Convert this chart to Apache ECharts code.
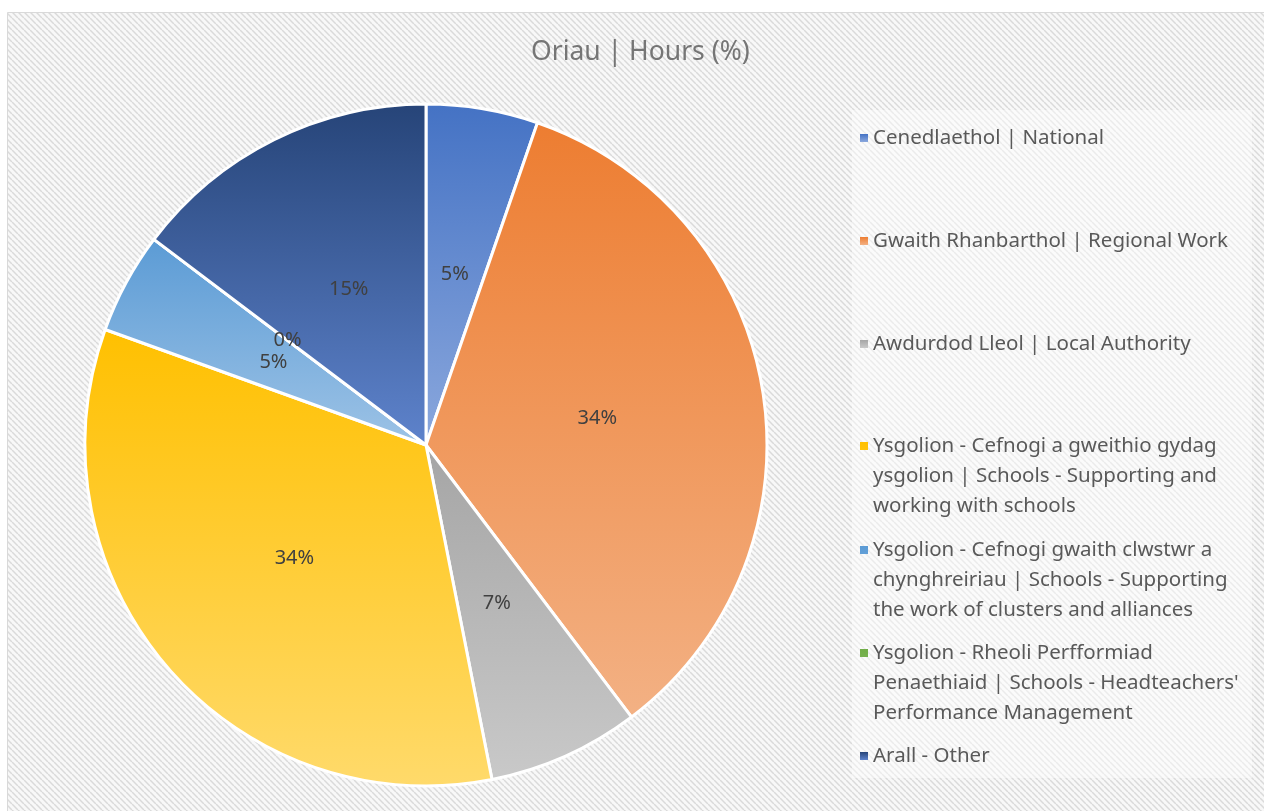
<!DOCTYPE html>
<html>
<head>
<meta charset="utf-8">
<script src="https://cdn.jsdelivr.net/npm/echarts@6/dist/echarts.min.js"></script>
<style>
  html, body {margin: 0; padding: 0; background: #fff;}
  #hoursPie {width: 1264px; height: 811px;}
</style>
</head>
<body>
<div id="hoursPie"></div>
<script>
const categories = [
  'Cenedlaethol | National',
  'Gwaith Rhanbarthol | Regional Work',
  'Awdurdod Lleol | Local Authority',
  'Ysgolion - Cefnogi a gweithio gydag ysgolion | Schools - Supporting and working with schools',
  'Ysgolion - Cefnogi gwaith clwstwr a chynghreiriau | Schools - Supporting the work of clusters and alliances',
  'Ysgolion - Rheoli Perfformiad Penaethiaid | Schools - Headteachers\' Performance Management',
  'Arall - Other'
];
// legend text as it wraps in the original
const legendText = [
  'Cenedlaethol | National',
  'Gwaith Rhanbarthol | Regional Work',
  'Awdurdod Lleol | Local Authority',
  'Ysgolion - Cefnogi a gweithio gydag\nysgolion | Schools - Supporting and\nworking with schools',
  'Ysgolion - Cefnogi gwaith clwstwr a\nchynghreiriau | Schools - Supporting\nthe work of clusters and alliances',
  'Ysgolion - Rheoli Perfformiad\nPenaethiaid | Schools - Headteachers\'\nPerformance Management',
  'Arall - Other'
];
const hours = [5.3, 34.4, 7.2, 33.6, 4.8, 0, 14.7];

const baseColors = ['#4472C4', '#ED7D31', '#A5A5A5', '#FFC000', '#5B9BD5', '#70AD47', '#264478'];
const lightColors = ['#8BA8DD', '#F3B184', '#C9C9C9', '#FFDA6B', '#9DC3E6', '#A9D18E', '#5E83CC'];
const legendLineY = [136, 239, 342, 444, 548, 651, 754];

const fontFamily = 'Noto Sans';
const lineH = 30;

function hatchTile() {
  const s = 6;
  const c = document.createElement('canvas');
  c.width = s;
  c.height = s;
  const ctx = c.getContext('2d');
  ctx.fillStyle = '#f8f8f8';
  ctx.fillRect(0, 0, s, s);
  ctx.strokeStyle = '#dadada';
  ctx.lineWidth = 1.5;
  [-s, 0, s].forEach(k => {
    ctx.beginPath();
    ctx.moveTo(k, 0);
    ctx.lineTo(k + s, s);
    ctx.stroke();
  });
  return c;
}

// one legend per item so that the spacing follows the original;
// for wrapped items the marker sits on top of a taller invisible box,
// which keeps it level with the first line of text
const legends = categories.map((name, i) => {
  const lines = legendText[i].split('\n').length;
  const boxH = 8 + lineH * (lines - 1);
  return {
    data: [name],
    orient: 'vertical',
    left: 860,
    top: legendLineY[i] - 13,
    padding: 0,
    itemWidth: 8,
    itemHeight: boxH,
    icon: 'path://M0,0L8,0L8,8L0,8Z' + (lines > 1 ? 'M0,' + boxH + 'L0.01,' + boxH : ''),
    itemStyle: {borderWidth: 0},
    formatter: () => legendText[i],
    textStyle: {
      fontFamily: fontFamily,
      fontSize: 20.5,
      color: '#595959',
      lineHeight: lineH
    }
  };
});

const option = {
  animation: false,
  title: {
    text: 'Oriau | Hours (%)',
    left: 531,
    top: 39,
    padding: 0,
    textStyle: {fontFamily: fontFamily, fontSize: 26.5, fontWeight: 'normal', color: '#757575'}
  },
  graphic: [
    {
      type: 'rect',
      z: 0,
      silent: true,
      shape: {x: 7.5, y: 12.5, width: 1280, height: 820},
      style: {fill: {image: hatchTile(), repeat: 'repeat'}, stroke: '#d9d9d9', lineWidth: 1}
    },
    {
      type: 'rect',
      z: 1,
      silent: true,
      shape: {x: 852, y: 110, width: 400, height: 668},
      style: {fill: 'rgba(255,255,255,0.45)'}
    }
  ],
  legend: legends,
  series: [
    {
      type: 'pie',
      center: [426, 445],
      radius: 341,
      startAngle: 90,
      clockwise: true,
      avoidLabelOverlap: false,
      itemStyle: {borderColor: '#ffffff', borderWidth: 3},
      label: {
        position: 'inside',
        formatter: p => Math.round(p.percent) + '%',
        fontFamily: fontFamily,
        fontSize: 20,
        color: '#404040'
      },
      labelLine: {show: false},
      emphasis: {scale: false},
      data: categories.map((name, i) => ({
        name: name,
        value: hours[i],
        itemStyle: {
          color: {
            type: 'linear', x: 0, y: 0, x2: 0, y2: 1,
            colorStops: [
              {offset: 0, color: baseColors[i]},
              {offset: 1, color: lightColors[i]}
            ]
          }
        }
      }))
    }
  ]
};

const hoursChart = echarts.init(document.getElementById('hoursPie'));
hoursChart.setOption(option);
</script>
</body>
</html>
